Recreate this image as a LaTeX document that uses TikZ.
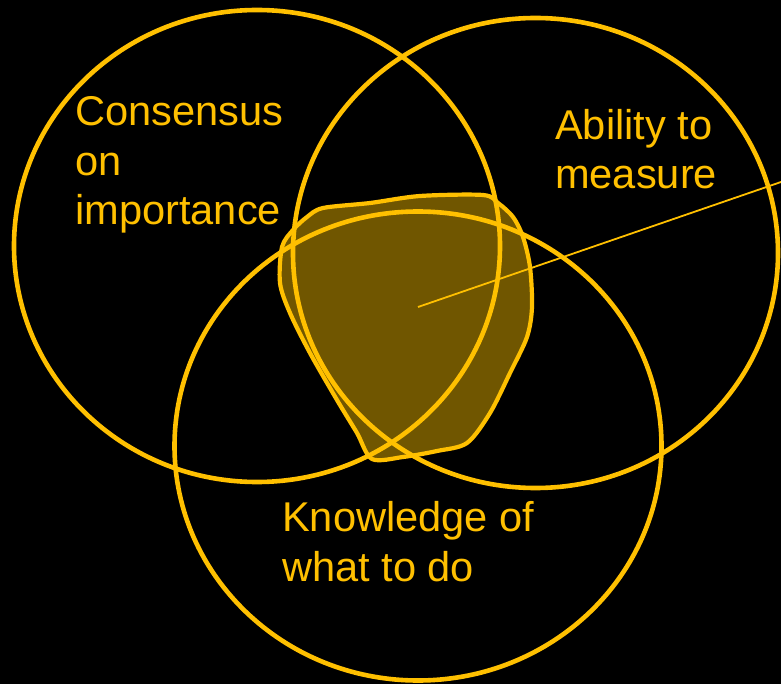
\documentclass[tikz,border=0pt]{standalone}
\usepackage{fontspec}
\setmainfont{Liberation Sans}
\definecolor{venn}{HTML}{FFC000}
\definecolor{blobfill}{RGB}{112,86,0}
\begin{document}
\begin{tikzpicture}[x=1pt,y=-1pt,
  ring/.style={draw=venn,line width=4.6pt},
  lbl/.style={text=venn,font=\fontsize{41.6}{49.5}\selectfont,align=left,inner sep=0pt,anchor=base west}]
\fill[black] (0,0) rectangle (781,684);
\useasboundingbox (0,0) rectangle (781,684);
% shaded blob
\filldraw[fill=blobfill,draw=venn,line width=4.2pt,line join=round]
  plot[smooth cycle,tension=0.5] coordinates {
  (323,208) (370,203) (420,196) (483,195) (498,203) (513,217) (523,237)
  (530,267) (532,307) (527,337) (510,373) (490,413) (467,443) (437,451)
  (403,457) (372,459) (357,433) (337,400) (310,353) (290,313) (280,283)
  (282,247) (293,230) (307,217)};
% circles
\draw[ring] (257,246) ellipse [x radius=243, y radius=236];
\draw[ring] (535.5,253) ellipse [x radius=242.5, y radius=235];
\draw[ring] (418,446) ellipse [x radius=243.5, y radius=234.5];
% pointer line
\coordinate (c) at (418,307);
\coordinate (e) at (781,182);
\draw[venn,line width=1.8pt] (c) -- (e);
% labels (anchor = baseline of last line)
\node[lbl] (cons) at (75,225) {Consensus\\on\\importance};
\node[lbl] (abil) at (555,189) {Ability to\\measure};
\node[lbl] (know) at (282,581) {Knowledge of\\what to do};
\end{tikzpicture}
\end{document}
